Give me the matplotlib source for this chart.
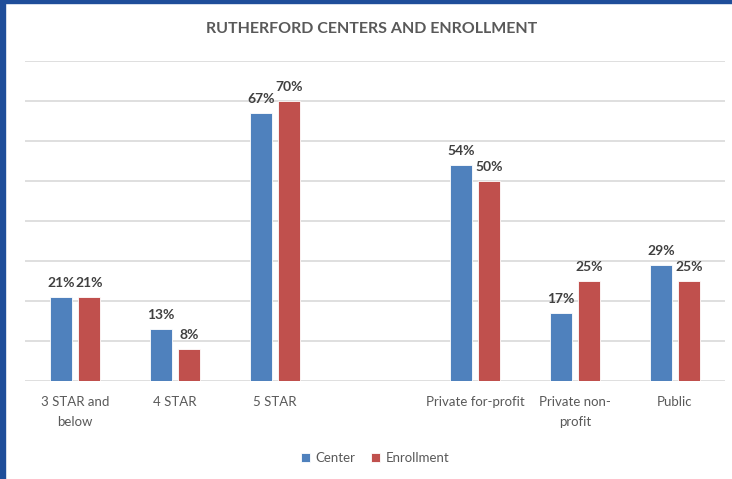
import matplotlib.pyplot as plt
import numpy as np
from matplotlib.patches import Rectangle

# chart data (empty slot between the two groups)
categories = ["3 STAR and\nbelow", "4 STAR", "5 STAR", "",
              "Private for-profit", "Private non-\nprofit", "Public"]
center = [21, 13, 67, None, 54, 17, 29]
enrollment = [21, 8, 70, None, 50, 25, 25]

BLUE = "#4F81BD"
RED = "#C0504D"
GRID = "#D9D9D9"

plt.rcParams['font.family'] = ['Lato', 'DejaVu Sans']

fig = plt.figure(figsize=(7.32, 4.79), dpi=100)
ax = fig.add_axes([25 / 732, 1 - 381 / 479, 700 / 732, 320 / 479])

x = np.arange(len(categories))
w = 0.225
off = 0.14

for vals, dx, col, name in [(center, -off, BLUE, "Center"),
                            (enrollment, off, RED, "Enrollment")]:
    xs = [xi + dx for xi, v in zip(x, vals) if v is not None]
    vs = [v for v in vals if v is not None]
    bars = ax.bar(xs, vs, width=w, color=col, edgecolor="white",
                  linewidth=0.6, label=name, zorder=3)
    for b, v in zip(bars, vs):
        ax.text(b.get_x() + b.get_width() / 2, v + 2.0, f"{v}%",
                ha="center", va="bottom", fontsize=10, fontweight="bold",
                color="#404040")

ax.set_xlim(-0.5, len(categories) - 0.5)
ax.set_ylim(0, 80)
ax.set_yticks(np.arange(0, 81, 10))
ax.set_yticklabels([])
ax.tick_params(axis="y", length=0)
ax.grid(axis="y", color=GRID, linewidth=1.2, zorder=0)
ax.set_xticks(x)
ax.set_xticklabels(categories, fontsize=9.5, color="#595959",
                   linespacing=1.8)
ax.tick_params(axis="x", length=0, pad=11)
for s in ax.spines.values():
    s.set_visible(False)

fig.text(372 / 732, 1 - 29 / 479, "RUTHERFORD CENTERS AND ENROLLMENT",
         ha="center", va="center", fontsize=11.5, fontweight="bold",
         color="#595959")

ax.legend(loc="center", bbox_to_anchor=(375 / 732, 1 - 458 / 479),
          bbox_transform=fig.transFigure, ncol=2, frameon=False,
          fontsize=9.5, handlelength=0.7, handleheight=0.7,
          handletextpad=0.4, columnspacing=1.2, labelcolor="#595959")

# blue frame on left and top edges
fig.patches.append(Rectangle((0, 0), 5 / 732, 1, transform=fig.transFigure,
                             color="#1F4E9A", zorder=10))
fig.patches.append(Rectangle((0, 1 - 3 / 479), 1, 3 / 479,
                             transform=fig.transFigure, color="#1F4E9A",
                             zorder=10))

fig.savefig("out.png", dpi=100)
